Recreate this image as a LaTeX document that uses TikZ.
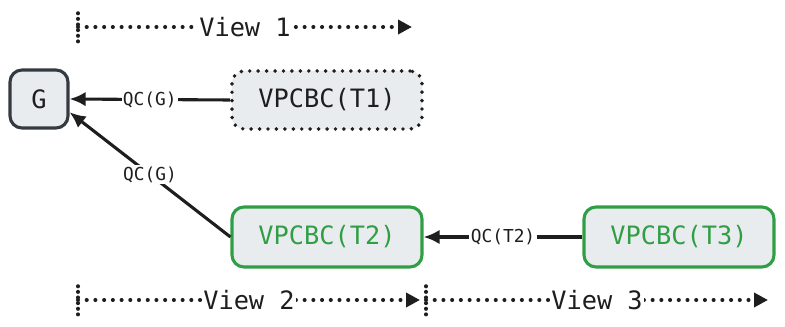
\documentclass[tikz,border=0pt]{standalone}
\usepackage{fontspec}
\setmonofont{DejaVu Sans Mono}
\usetikzlibrary{positioning,arrows.meta}

\definecolor{boxfill}{HTML}{E9ECEF}
\definecolor{boxgreen}{HTML}{2F9E44}
\definecolor{boxdark}{HTML}{343A40}
\definecolor{ink}{HTML}{1E1E1E}

\begin{document}
\begin{tikzpicture}[
			plain/.style={rectangle, rounded corners=3mm, draw=boxdark, fill=boxfill, line width=2.2pt, text=ink, font=\ttfamily\fontsize{18}{20}\selectfont},
			view/.style={rectangle, rounded corners=3mm, draw=ink, fill=boxfill, line width=2.8pt, dash pattern=on 0pt off 6pt, line cap=round, text=ink, minimum width=4.75cm, minimum height=1.45cm, font=\ttfamily\fontsize{18}{20}\selectfont},
			cand/.style={rectangle, rounded corners=3mm, draw=boxgreen, fill=boxfill, line width=2.2pt, text=boxgreen, minimum width=4.75cm, minimum height=1.5cm, font=\ttfamily\fontsize{18}{20}\selectfont},
			link/.style={line width=2.2pt, draw=ink, -{Latex[length=4mm,width=3.6mm]}},
			qc/.style={fill=white, inner sep=1pt, text=ink, font=\ttfamily\fontsize{12.7}{14}\selectfont},
			span/.style={line width=2.9pt, draw=ink, dash pattern=on 0pt off 6.2pt, line cap=round},
			spanlabel/.style={fill=white, inner sep=1pt, text=ink, font=\ttfamily\fontsize{18}{20}\selectfont},
			]
			\useasboundingbox (0,0) rectangle (19.625,-8.175);

			%Nodes
				\node[plain, minimum size=1.45cm]	(G)		at (0.975,-2.475)	{G};
				\node[view]		(T1)		at (8.175,-2.5)		{VPCBC(T1)};
				\node[cand]		(T2)		at (8.175,-5.925)	{VPCBC(T2)};
				\node[cand]		(T3)		at (16.975,-5.925)	{VPCBC(T3)};

			%Lines
				\draw[link] (T1.west) -- node[qc] {QC(G)} (G.east);
				\draw[link] (T2.west) -- node[qc] {QC(G)} ([yshift=-3.3mm]G.east);
				\draw[link] (T3.west) -- node[qc] {QC(T2)} (T2.east);

			%Views
				\coordinate (v1-a) at (1.95,-0.675);
				\coordinate (v1-b) at (10.3,-0.675);
				\coordinate (v2-a) at (1.95,-7.5);
				\coordinate (v2-b) at (10.5,-7.5);
				\coordinate (v3-a) at (10.65,-7.5);
				\coordinate (v3-b) at (19.2,-7.5);
				\foreach \v in {v1-a,v2-a,v3-a}
					\draw[span, dash pattern=on 0pt off 4pt] ([yshift=-3.6mm]\v) -- ([yshift=3.6mm]\v);
				\draw[span, -{Triangle[length=3.5mm,width=3.5mm]}] (v1-a) -- node[spanlabel] {View 1} (v1-b);
				\draw[span, -{Triangle[length=3.5mm,width=3.5mm]}] (v2-a) -- node[spanlabel] {View 2} (v2-b);
				\draw[span, -{Triangle[length=3.5mm,width=3.5mm]}] (v3-a) -- node[spanlabel] {View 3} (v3-b);
		\end{tikzpicture}
\end{document}
